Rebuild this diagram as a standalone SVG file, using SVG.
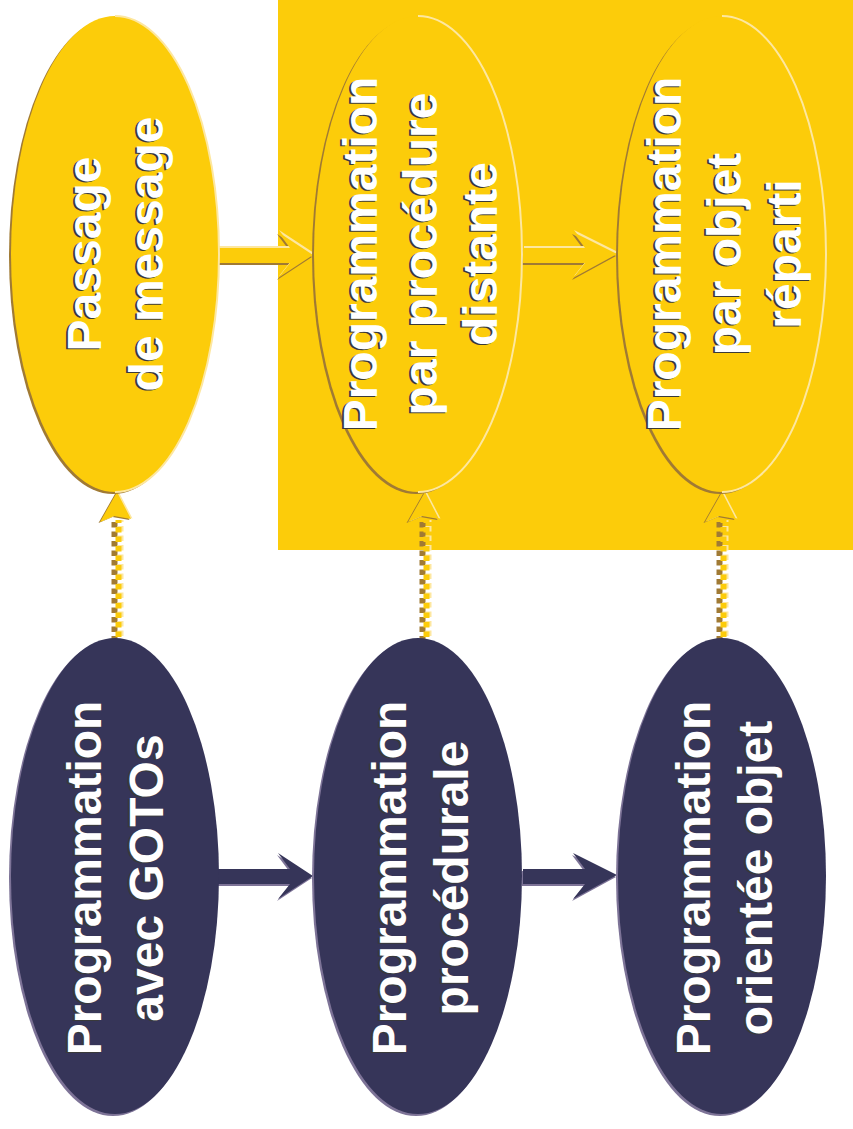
<svg xmlns="http://www.w3.org/2000/svg" width="853" height="1129" viewBox="0 0 853 1129">
  <style>
    .lbl { font-family: "Liberation Sans", Arial, sans-serif; font-weight: bold; font-size: 48px; text-anchor: middle; fill: #ffffff; }
    .sh { fill: #3a3a3a; }
    .yfill { fill: #fccc0a; }
    .yedge { fill: #a07a34; }
    .ylight { fill: none; stroke: #fde7a0; stroke-width: 2; }
    .dfill { fill: #363559; }
    .dedge { fill: #7d7397; }
    .dotB { stroke: #a07a34; stroke-width: 6; stroke-dasharray: 5.5 4; }
    .dotL { stroke: #fde7a0; stroke-width: 6; stroke-dasharray: 5.5 4; stroke-dashoffset: 3.5; }
    .dotY { stroke: #fccc0a; stroke-width: 6; stroke-dasharray: 5.5 4; stroke-dashoffset: 2.5; }
  </style>
  <defs>
    <!-- block arrow shapes, drawn with the origin at the tail -->
    <polygon id="arrowLong" points="0,-7 73,-7 61,-23 96,0 61,23 73,8 0,8"/>
    <polygon id="arrowShort" points="0,-7 62,-7 50,-23 94,-1 50,23 62,8 0,8"/>
    <!-- small arrowhead for the dotted links, tip at origin -->
    <polygon id="dotHead" points="0,0 14,27 -3,24 -17,30"/>
    <g id="dotLink">
      <line class="dotB" x1="-2.5" y1="30" x2="-2.5" y2="148"/>
      <line class="dotL" x1="3.5" y1="28" x2="3.5" y2="146"/>
      <line class="dotY" x1="1.5" y1="28" x2="1.5" y2="146"/>
      <use href="#dotHead" class="yedge" x="-1.5" y="1"/>
      <use href="#dotHead" fill="#fde7a0" x="1.5" y="-0.5"/>
      <use href="#dotHead" class="yfill"/>
    </g>
  </defs>

  <!-- background panel for the distributed models -->
  <rect x="278" y="0" width="575" height="550" fill="#fccc0a"/>

  <!-- connectors -->
  <g id="connectors">
    <!-- yellow block arrows -->
    <g transform="translate(217,255)">
      <use href="#arrowLong" class="yedge" x="-1" y="2"/>
      <use href="#arrowLong" fill="#fde7a0" x="1" y="-2"/>
      <use href="#arrowLong" class="yfill"/>
    </g>
    <g transform="translate(523,255)">
      <use href="#arrowShort" class="yedge" x="-1" y="2"/>
      <use href="#arrowShort" fill="#fde7a0" x="1" y="-2"/>
      <use href="#arrowShort" class="yfill"/>
    </g>
    <!-- dark block arrows -->
    <g transform="translate(217,876)">
      <use href="#arrowLong" class="dedge" x="-1" y="2"/>
      <use href="#arrowLong" class="dfill"/>
    </g>
    <g transform="translate(523,876)">
      <use href="#arrowShort" class="dedge" x="-1" y="2"/>
      <use href="#arrowShort" class="dfill"/>
    </g>
    <!-- dotted links, bottom row to top row -->
    <use href="#dotLink" x="117" y="492"/>
    <use href="#dotLink" x="425" y="492"/>
    <use href="#dotLink" x="722" y="492"/>
  </g>

  <!-- top row -->
  <g id="node-passage">
    <ellipse class="yedge" cx="113" cy="256" rx="104" ry="238"/>
    <ellipse class="yfill" cx="115" cy="254" rx="104" ry="238"/>
    <path class="ylight" d="M115,16 A104,238 0 0 1 115,492"/>
    <g transform="translate(115,254) rotate(-90)">
      <text class="lbl sh" x="-1" y="-16">Passage</text>
      <text class="lbl sh" x="-1" y="46">de message</text>
      <text class="lbl" x="0" y="-14">Passage</text>
      <text class="lbl" x="0" y="48">de message</text>
    </g>
  </g>

  <g id="node-rpc">
    <ellipse class="yedge" cx="416" cy="256" rx="104" ry="238"/>
    <ellipse class="yfill" cx="418" cy="254" rx="104" ry="238"/>
    <path class="ylight" d="M418,16 A104,238 0 0 1 418,492"/>
    <g transform="translate(420,254) rotate(-90)">
      <text class="lbl sh" x="-1" y="-45">Programmation</text>
      <text class="lbl sh" x="-1" y="15">par procédure</text>
      <text class="lbl sh" x="-1" y="75">distante</text>
      <text class="lbl" x="0" y="-43">Programmation</text>
      <text class="lbl" x="0" y="17">par procédure</text>
      <text class="lbl" x="0" y="77">distante</text>
    </g>
  </g>

  <g id="node-distributed-object">
    <ellipse class="yedge" cx="720" cy="256" rx="104" ry="238"/>
    <ellipse class="yfill" cx="722" cy="254" rx="104" ry="238"/>
    <path class="ylight" d="M722,16 A104,238 0 0 1 722,492"/>
    <g transform="translate(724,254) rotate(-90)">
      <text class="lbl sh" x="-1" y="-45">Programmation</text>
      <text class="lbl sh" x="-1" y="15">par objet</text>
      <text class="lbl sh" x="-1" y="75">réparti</text>
      <text class="lbl" x="0" y="-43">Programmation</text>
      <text class="lbl" x="0" y="17">par objet</text>
      <text class="lbl" x="0" y="77">réparti</text>
    </g>
  </g>

  <!-- bottom row -->
  <g id="node-goto">
    <ellipse class="dedge" cx="113" cy="878" rx="104" ry="238"/>
    <ellipse class="dfill" cx="115" cy="876" rx="104" ry="238"/>
    <g transform="translate(115,878) rotate(-90)">
      <text class="lbl sh" x="-1" y="-16">Programmation</text>
      <text class="lbl sh" x="-1" y="46">avec GOTOs</text>
      <text class="lbl" x="0" y="-14">Programmation</text>
      <text class="lbl" x="0" y="48">avec GOTOs</text>
    </g>
  </g>

  <g id="node-procedural">
    <ellipse class="dedge" cx="416" cy="878" rx="104" ry="238"/>
    <ellipse class="dfill" cx="418" cy="876" rx="104" ry="238"/>
    <g transform="translate(420,878) rotate(-90)">
      <text class="lbl sh" x="-1" y="-16">Programmation</text>
      <text class="lbl sh" x="-1" y="46">procédurale</text>
      <text class="lbl" x="0" y="-14">Programmation</text>
      <text class="lbl" x="0" y="48">procédurale</text>
    </g>
  </g>

  <g id="node-object">
    <ellipse class="dedge" cx="720" cy="878" rx="104" ry="238"/>
    <ellipse class="dfill" cx="722" cy="876" rx="104" ry="238"/>
    <g transform="translate(724,878) rotate(-90)">
      <text class="lbl sh" x="-1" y="-16">Programmation</text>
      <text class="lbl sh" x="-1" y="46">orientée objet</text>
      <text class="lbl" x="0" y="-14">Programmation</text>
      <text class="lbl" x="0" y="48">orientée objet</text>
    </g>
  </g>
</svg>
